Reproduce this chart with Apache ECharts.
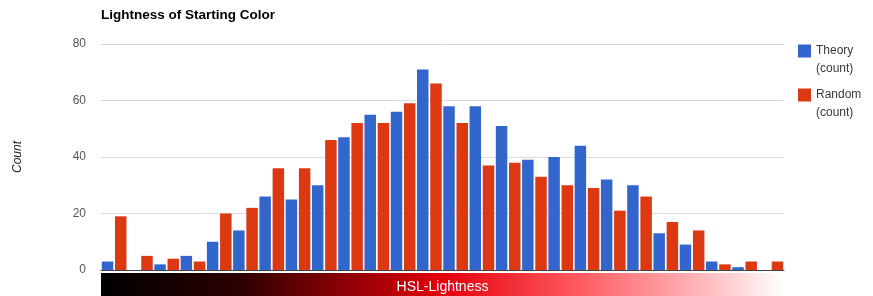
<!DOCTYPE html>
<html>
<head>
<meta charset="utf-8">
<script src="https://cdn.jsdelivr.net/npm/echarts@6/dist/echarts.min.js"></script>
<style>
  html, body { margin: 0; padding: 0; background: #fff; }
  #chart { width: 873px; height: 296px; }
</style>
</head>
<body>
<div id="chart"></div>
<script>
// 26 lightness bins
const bins = ['0', '1', '2', '3', '4', '5', '6', '7', '8', '9', '10', '11', '12',
  '13', '14', '15', '16', '17', '18', '19', '20', '21', '22', '23', '24', '25']
const theory = [3, 0, 2, 5, 10, 14, 26, 25, 30, 47, 55, 56, 71,
  58, 58, 51, 39, 40, 44, 32, 30, 13, 9, 3, 1, 0]
const random = [19, 5, 4, 3, 20, 22, 36, 36, 46, 52, 52, 59, 66,
  52, 37, 38, 33, 30, 29, 21, 26, 17, 14, 2, 3, 3]
const yTicks = [0, 20, 40, 60, 80]

const W = 873, H = 296
const grid = { left: 101, right: 89, top: 44, bottom: 26, outerBoundsMode: 'none' }

const chart = echarts.init(document.getElementById('chart'), null, { renderer: 'canvas' })

let option = {
  animation: false,
  textStyle: { fontFamily: 'Liberation Sans, Arial, sans-serif' },
  title: {
    text: 'Lightness of Starting Color',
    left: 101,
    top: 8,
    padding: 0,
    textStyle: { fontSize: 13.5, fontWeight: 'bold', color: '#000' }
  },
  legend: {
    orient: 'vertical',
    left: 798,
    top: 24,
    padding: 0,
    itemWidth: 13,
    itemHeight: 13,
    itemGap: -10,
    icon: 'rect',
    // blank first line so the name sits level with the swatch
    formatter: name => '\n' + name + '\n(count)',
    textStyle: { fontSize: 12, color: '#3a3a3a', lineHeight: 18 },
    data: ['Theory', 'Random']
  },
  grid: grid,
  // gradient strip under the axis: HSL lightness from 0 to 100
  graphic: [{
    type: 'rect',
    z: -10,
    shape: { x: grid.left, y: H - grid.bottom + 3, width: W - grid.left - grid.right, height: 30 },
    style: {
      fill: new echarts.graphic.LinearGradient(0, 0, 1, 0, [
        { offset: 0, color: '#000000' },
        { offset: 0.2, color: '#2c0000' },
        { offset: 0.5, color: '#e4000a' },
        { offset: 0.7, color: '#ff5a60' },
        { offset: 0.88, color: '#ffb8bb' },
        { offset: 1, color: '#ffffff' }
      ])
    }
  }],
  xAxis: {
    type: 'category',
    data: bins,
    z: 5,
    name: 'HSL-Lightness',
    nameLocation: 'middle',
    nameGap: 17,
    nameTextStyle: { color: '#fff', fontSize: 14, verticalAlign: 'middle' },
    axisLine: { lineStyle: { color: '#444', width: 1 } },
    axisTick: { show: false },
    axisLabel: { show: false }
  },
  yAxis: {
    type: 'value',
    min: yTicks[0],
    max: yTicks[yTicks.length - 1],
    interval: 20,
    name: 'Count',
    nameLocation: 'middle',
    nameRotate: 90,
    nameGap: 77,
    nameTextStyle: { fontSize: 12, fontStyle: 'italic', color: '#222' },
    axisLine: { show: false },
    axisTick: { show: false },
    axisLabel: { fontSize: 12, color: '#555', margin: 15 },
    splitLine: { lineStyle: { color: '#dcdcdc', width: 1 } }
  },
  series: [
    {
      name: 'Theory',
      type: 'bar',
      data: theory,
      barGap: '15%',
      barCategoryGap: '6%',
      itemStyle: { color: '#3366cc' }
    },
    {
      name: 'Random',
      type: 'bar',
      data: random,
      barGap: '15%',
      barCategoryGap: '6%',
      itemStyle: { color: '#dc3912' }
    }
  ]
}
chart.setOption(option)
</script>
</body>
</html>
